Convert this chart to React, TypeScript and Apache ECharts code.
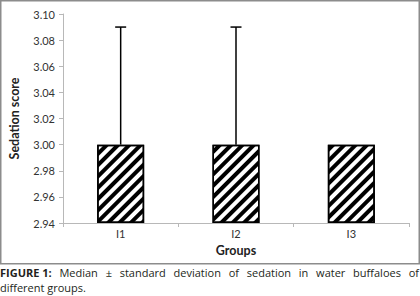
import React, { useEffect, useRef } from "react";
import * as echarts from "echarts";

const categories = ["I1", "I2", "I3"];
const medians = [3.0, 3.0, 3.0];
const sds = [0.09, 0.09, 0];
const axisMin = 2.94;
const axisMax = 3.1;
const axisStep = 0.02;
const yTitle = "Sedation score";
const xTitle = "Groups";
const captionBold = "FIGURE 1:";
const captionLine1 = "Median ± standard deviation of sedation in water buffaloes of";
const captionLine2 = "different groups.";

const CHART_FONT = "Lato, 'DejaVu Sans', sans-serif";
const CAP_FONT = "'Open Sans', 'DejaVu Sans', sans-serif";

function measure(text: string, font: string): number {
  const c = document.createElement("canvas").getContext("2d");
  if (!c) return text.length * 6;
  c.font = font;
  return c.measureText(text).width;
}

function captionElements(): any[] {
  const size = 11;
  const boldFont = `bold ${size}px 'Open Sans'`;
  const normFont = `${size}px 'Open Sans'`;
  const words: { t: string; b: boolean }[] = [
    { t: captionBold, b: true },
    ...captionLine1.split(" ").map((t) => ({ t, b: false })),
  ];
  const widths = words.map((w) => measure(w.t, w.b ? boldFont : normFont));
  const total = widths.reduce((a, b) => a + b, 0);
  const left = 0;
  const right = 419;
  const gap = (right - left - total) / (words.length - 1);
  const els: any[] = [];
  let x = left;
  words.forEach((w, i) => {
    els.push({
      type: "text",
      x,
      y: 267,
      style: {
        text: w.t,
        fontFamily: CAP_FONT,
        fontSize: size,
        fontWeight: w.b ? "bold" : "normal",
        fill: "#231f20",
        verticalAlign: "top",
        align: "left",
      },
    });
    x += widths[i] + gap;
  });
  els.push({
    type: "text",
    x: left,
    y: 282,
    style: {
      text: captionLine2,
      fontFamily: CAP_FONT,
      fontSize: size,
      fill: "#231f20",
      verticalAlign: "top",
      align: "left",
    },
  });
  return els;
}

export default function App() {
  const ref = useRef<HTMLDivElement>(null);
  useEffect(() => {
    if (!ref.current) return;
    const chart = echarts.init(ref.current, undefined, { renderer: "svg" });
    const option: any = {
      animation: false,
      backgroundColor: "#fff",
      textStyle: { fontFamily: CHART_FONT },
      grid: { left: 63, right: 11, top: 14, bottom: 73, containLabel: false },
      xAxis: {
        type: "category",
        data: categories,
        name: xTitle,
        nameLocation: "middle",
        nameGap: 21,
        nameTextStyle: { fontFamily: CHART_FONT, fontWeight: "bold", fontSize: 12.5, color: "#222" },
        axisLine: { lineStyle: { color: "#b8b8b8", width: 1 } },
        axisTick: { show: true, length: 4, alignWithLabel: false, lineStyle: { color: "#b8b8b8" } },
        axisLabel: { fontFamily: CHART_FONT, fontSize: 11, color: "#333", margin: 5 },
      },
      yAxis: {
        type: "value",
        min: axisMin,
        max: axisMax,
        interval: axisStep,
        name: yTitle,
        nameLocation: "middle",
        nameGap: 42,
        nameTextStyle: { fontFamily: CHART_FONT, fontWeight: "bold", fontSize: 12.5, color: "#222" },
        axisLine: { show: true, lineStyle: { color: "#b8b8b8", width: 1 } },
        axisTick: { show: true, length: 4, lineStyle: { color: "#b8b8b8" } },
        splitLine: { show: false },
        axisLabel: {
          fontFamily: CHART_FONT,
          fontSize: 11,
          color: "#333",
          margin: 8,
          formatter: (v: number) => v.toFixed(2),
        },
      },
      series: [
        {
          type: "bar",
          stack: "s",
          silent: true,
          barWidth: 47,
          data: categories.map(() => axisMin),
          itemStyle: { color: "rgba(0,0,0,0)" },
        },
        {
          type: "bar",
          stack: "s",
          barWidth: 47,
          data: medians.map((m) => m - axisMin),
          itemStyle: {
            color: "#fff",
            borderColor: "#000",
            borderWidth: 1.5,
            decal: {
              symbol: "rect",
              symbolSize: 1,
              color: "#000",
              backgroundColor: null,
              dashArrayX: [[1, 0]],
              dashArrayY: [3.5, 3.8],
              rotation: -Math.PI / 4,
            },
          },
        },
        {
          type: "custom",
          silent: true,
          data: categories.map((_, i) => [i, medians[i], sds[i]]),
          renderItem: (params: any, api: any) => {
            const i = api.value(0);
            const m = api.value(1);
            const s = api.value(2);
            if (!s) return { type: "group", children: [] };
            const p0 = api.coord([i, m]);
            const p1 = api.coord([i, m + s]);
            const style = { stroke: "#000", lineWidth: 1.5 };
            return {
              type: "group",
              children: [
                { type: "line", shape: { x1: p0[0], y1: p0[1], x2: p1[0], y2: p1[1] }, style },
                { type: "line", shape: { x1: p1[0] - 5.5, y1: p1[1], x2: p1[0] + 5.5, y2: p1[1] }, style },
              ],
            };
          },
          z: 5,
        },
      ],
      graphic: [
        {
          type: "rect",
          shape: { x: 0.75, y: 0.75, width: 418.5, height: 263 },
          style: { fill: "none", stroke: "#8c8c8c", lineWidth: 1.5 },
          silent: true,
        },
        ...captionElements(),
      ],
    };
    chart.setOption(option);
    return () => chart.dispose();
  }, []);
  return (
    <div
      ref={ref}
      style={{ position: "fixed", left: 0, top: 0, width: 420, height: 296 }}
    />
  );
}
